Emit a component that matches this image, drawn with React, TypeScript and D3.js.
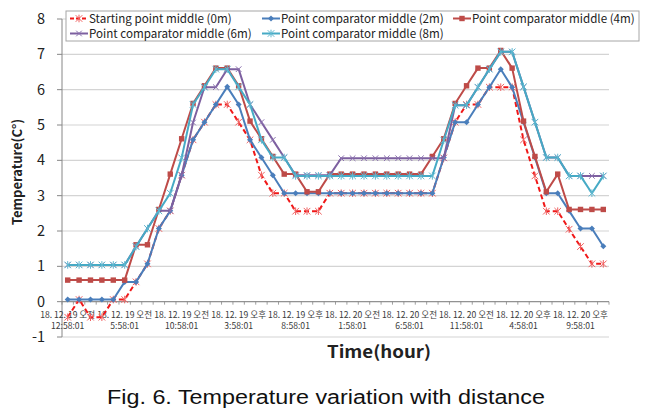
import React from 'react';
import * as d3 from 'd3';

const W = 659;
const H = 411;

// X categories: hourly readings, labels shown every 5th category
const tickIdx = [0, 5, 10, 15, 20, 25, 30, 35, 40, 45];
const tickDates = [
  '18. 12. 19 오전', '18. 12. 19 오전', '18. 12. 19 오전', '18. 12. 19 오후', '18. 12. 19 오후',
  '18. 12. 20 오전', '18. 12. 20 오전', '18. 12. 20 오전', '18. 12. 20 오후', '18. 12. 20 오후',
];
const tickTimes = ['12:58:01', '5:58:01', '10:58:01', '3:58:01', '8:58:01', '1:58:01', '6:58:01', '11:58:01', '4:58:01', '9:58:01'];
const yTicks = [8, 7, 6, 5, 4, 3, 2, 1, 0, -1];

const s0 = [
  -0.44, 0.06, -0.44, -0.44, 0.06, 0.06, 0.56, 1.07, 2.07, 2.57,
  3.58, 4.58, 5.08, 5.58, 5.58, 5.08, 4.58, 3.58, 3.07, 3.07,
  2.56, 2.56, 2.56, 3.07, 3.07, 3.07, 3.07, 3.07, 3.07, 3.07,
  3.07, 3.07, 3.07, 4.07, 5.08, 5.58, 5.58, 6.07, 6.07, 6.07,
  4.58, 3.56, 2.56, 2.56, 2.05, 1.56, 1.07, 1.07,
];
const s2 = [
  0.06, 0.06, 0.06, 0.06, 0.06, 0.56, 0.56, 1.07, 2.07, 2.57,
  3.58, 4.58, 5.08, 5.58, 6.08, 5.58, 4.58, 4.08, 3.58, 3.07,
  3.07, 3.07, 3.07, 3.07, 3.07, 3.07, 3.07, 3.07, 3.07, 3.07,
  3.07, 3.07, 3.07, 4.08, 5.08, 5.08, 5.58, 6.07, 6.58, 6.07,
  5.08, 4.08, 3.07, 3.07, 2.57, 2.07, 2.07, 1.57,
];
const s4 = [
  0.61, 0.61, 0.61, 0.61, 0.61, 0.61, 1.61, 1.61, 2.61, 3.61,
  4.61, 5.61, 6.11, 6.61, 6.61, 6.11, 5.11, 4.61, 4.11, 3.61,
  3.61, 3.11, 3.11, 3.61, 3.61, 3.61, 3.61, 3.61, 3.61, 3.61,
  3.61, 3.61, 4.11, 4.61, 5.61, 6.11, 6.61, 6.61, 7.11, 6.61,
  5.11, 4.11, 3.11, 3.61, 2.61, 2.61, 2.61, 2.61,
];
const s6 = [
  1.04, 1.04, 1.04, 1.04, 1.04, 1.04, 1.56, 2.07, 2.57, 2.57,
  3.58, 5.07, 6.07, 6.07, 6.58, 6.58, 5.58, 5.08, 4.58, 4.08,
  3.58, 3.58, 3.58, 3.58, 4.06, 4.06, 4.06, 4.06, 4.06, 4.06,
  4.06, 4.06, 4.06, 4.06, 5.56, 5.56, 6.07, 6.58, 7.07, 7.07,
  6.08, 5.08, 4.08, 4.08, 3.56, 3.56, 3.56, 3.56,
];
const s8 = [
  1.04, 1.04, 1.04, 1.04, 1.04, 1.04, 1.56, 2.07, 2.57, 3.07,
  4.07, 5.58, 6.07, 6.58, 6.58, 6.08, 5.58, 4.58, 4.08, 4.08,
  3.56, 3.56, 3.56, 3.56, 3.56, 3.56, 3.56, 3.56, 3.56, 3.56,
  3.56, 3.56, 3.56, 4.57, 5.56, 5.56, 6.07, 6.58, 7.07, 7.07,
  6.08, 5.08, 4.08, 4.08, 3.56, 3.56, 3.07, 3.56,
];

const seriesNames = [
  'Starting point middle (0m)',
  'Point comparator middle (2m)',
  'Point comparator middle (4m)',
  'Point comparator middle (6m)',
  'Point comparator middle (8m)',
];
const seriesData = [s0, s2, s4, s6, s8];
const seriesColors = ['#F01818', '#4A7EBB', '#BE4B48', '#7D60A0', '#46AAC5'];
const markerColors = ['#F06060', '#4A7EBB', '#BE4B48', '#8A70AE', '#5FB8D0'];
const markerKinds = ['star', 'diamond', 'square', 'x', 'star'];

const FONT = "'Noto Sans CJK KR', 'Noto Sans', sans-serif";

function Marker({ kind, color, cx, cy }: { kind: string; color: string; cx: number; cy: number }) {
  if (kind === 'diamond') {
    const r = 3;
    return <path d={`M${cx},${cy - r}L${cx + r},${cy}L${cx},${cy + r}L${cx - r},${cy}Z`} fill={color} />;
  }
  if (kind === 'square') {
    return <rect x={cx - 2.7} y={cy - 2.7} width={5.4} height={5.4} fill={color} />;
  }
  if (kind === 'x') {
    const r = 2.8;
    return (
      <path d={`M${cx - r},${cy - r}L${cx + r},${cy + r}M${cx - r},${cy + r}L${cx + r},${cy - r}`} stroke={color} strokeWidth={1} fill="none" />
    );
  }
  const r = 3.3;
  return (
    <path
      d={`M${cx - r},${cy - r}L${cx + r},${cy + r}M${cx - r},${cy + r}L${cx + r},${cy - r}M${cx},${cy - r - 0.5}L${cx},${cy + r + 0.5}`}
      stroke={color}
      strokeWidth={1}
      fill="none"
    />
  );
}

export default function App() {
  const n = s0.length;
  const x = d3.scaleBand<number>().domain(d3.range(n)).range([62, 609]).padding(0);
  const y = d3.scaleLinear().domain([-1, 8]).range([337, 19]);
  const cx = (i: number) => (x(i) as number) + x.bandwidth() / 2;
  const lineGen = d3
    .line<number>()
    .x((_, i) => cx(i))
    .y((d) => y(d));

  const boundaries = d3.range(n + 1).map((i) => 62 + i * x.step());

  const legendPos = [
    { x: 70, y: 18.5 },
    { x: 262, y: 18.5 },
    { x: 453, y: 18.5 },
    { x: 70, y: 33.5 },
    { x: 262, y: 33.5 },
  ];

  return (
    <svg width={W} height={H} style={{ position: 'absolute', left: 0, top: 0, background: '#fff' }} fontFamily={FONT}>
      <rect x={0} y={0} width={W} height={H} fill="#fff" />
      {/* gridlines */}
      {yTicks.map((t) => (
        <line key={`g${t}`} x1={62} x2={609} y1={y(t)} y2={y(t)} stroke="#D4D4D4" strokeWidth={1.2} />
      ))}
      {/* y axis */}
      <line x1={62} x2={62} y1={y(8)} y2={y(-1)} stroke="#868686" strokeWidth={1} />
      {yTicks.map((t) => (
        <g key={`yt${t}`}>
          <line x1={57} x2={62} y1={y(t)} y2={y(t)} stroke="#868686" strokeWidth={1} />
          <text x={45} y={y(t) + 5} textAnchor="end" fontSize={14.5} fill="#222">
            {t}
          </text>
        </g>
      ))}
      {/* x axis at 0 */}
      <line x1={62} x2={609} y1={y(0)} y2={y(0)} stroke="#868686" strokeWidth={1} />
      {boundaries.map((b, i) => (
        <line key={`xt${i}`} x1={b} x2={b} y1={y(0)} y2={y(0) + 3} stroke="#868686" strokeWidth={0.8} />
      ))}
      {tickIdx.map((ti, k) => (
        <g key={`xl${ti}`} fontSize={8.6} fill="#3A3A3A" textAnchor="middle">
          <text x={cx(ti)} y={317.5}>{tickDates[k]}</text>
          <text x={cx(ti)} y={329}>{tickTimes[k]}</text>
        </g>
      ))}
      {/* series */}
      {seriesData.map((data, s) => (
        <g key={`s${s}`}>
          <path
            d={lineGen(data) || ''}
            fill="none"
            stroke={seriesColors[s]}
            strokeWidth={2}
            strokeDasharray={s === 0 ? '5,3' : undefined}
            strokeLinejoin="round"
          />
          {data.map((v, i) => (
            <Marker key={i} kind={markerKinds[s]} color={markerColors[s]} cx={cx(i)} cy={y(v)} />
          ))}
        </g>
      ))}
      {/* legend */}
      <rect x={66} y={11} width={573} height={30} fill="#fff" stroke="#A6A6A6" strokeWidth={1} />
      {seriesNames.map((name, s) => {
        const p = legendPos[s];
        return (
          <g key={`lg${s}`}>
            <line
              x1={p.x}
              x2={p.x + 18}
              y1={p.y}
              y2={p.y}
              stroke={seriesColors[s]}
              strokeWidth={2}
              strokeDasharray={s === 0 ? '4,2' : undefined}
            />
            <Marker kind={markerKinds[s]} color={markerColors[s]} cx={p.x + 9} cy={p.y} />
            <text x={p.x + 19} y={p.y + 4} fontSize={11.6} fill="#222">
              {name}
            </text>
          </g>
        );
      })}
      {/* axis titles */}
      <text
        transform="translate(21.5,172) rotate(-90)"
        textAnchor="middle"
        fontSize={13}
        fontWeight="bold"
        fill="#222"
      >
        Temperature(C°)
      </text>
      <text
        x={379}
        y={358}
        textAnchor="middle"
        fontSize={16.5}
        fontWeight="bold"
        fill="#222"
        textLength={104}
        lengthAdjust="spacingAndGlyphs"
      >
        Time(hour)
      </text>
      <text
        x={326}
        y={404}
        textAnchor="middle"
        fontSize={20}
        fill="#111"
        fontFamily="'Liberation Sans', Arial, sans-serif"
        textLength={438}
        lengthAdjust="spacingAndGlyphs"
      >
        Fig. 6. Temperature variation with distance
      </text>
    </svg>
  );
}
